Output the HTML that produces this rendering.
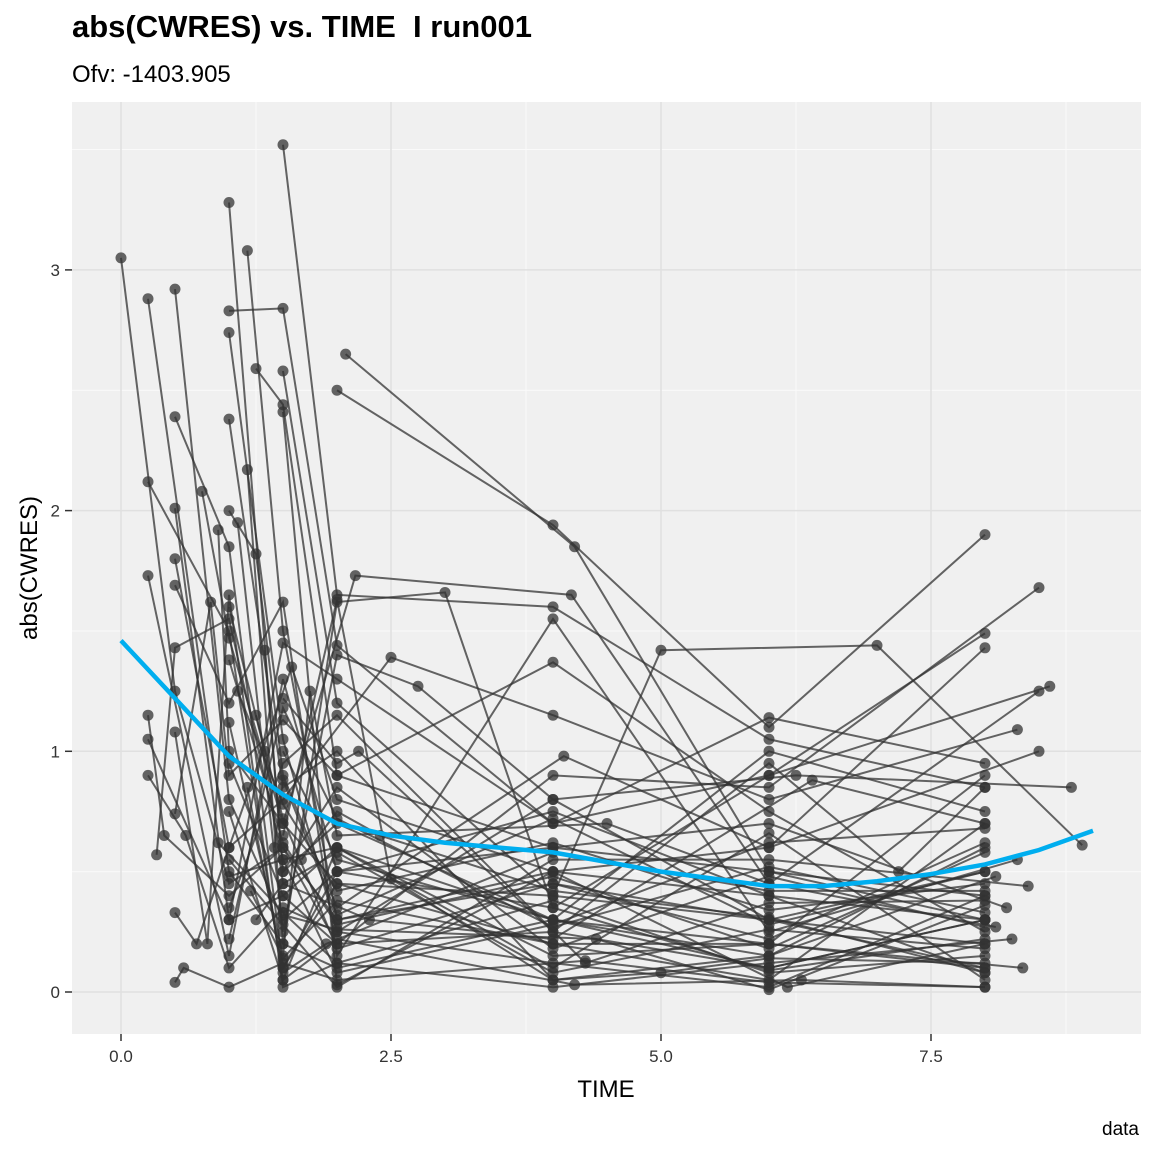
<!DOCTYPE html>
<html><head><meta charset="utf-8"><style>
body{margin:0;background:#fff;font-family:"Liberation Sans",sans-serif}
</style></head><body>
<svg id="chart" width="1152" height="1152" xmlns="http://www.w3.org/2000/svg">
<rect x="0" y="0" width="1152" height="1152" fill="#fff"/>
<text x="72" y="37" font-size="31" font-weight="bold" fill="#000">abs(CWRES) vs. TIME&#160; I run001</text>
<text x="72" y="82" font-size="24" fill="#000">Ofv: -1403.905</text>
<rect x="72" y="102" width="1069" height="932" fill="#f0f0f0"/>
<g id="grid"></g>
<g id="lines"></g>
<g id="points"></g>
<path id="smooth" fill="none" stroke="#00aeef" stroke-width="4.5"/>
<g id="ticks"></g>
<text x="606" y="1097" font-size="24" text-anchor="middle" fill="#000">TIME</text>
<text transform="translate(37,568) rotate(-90)" font-size="24" text-anchor="middle" fill="#000">abs(CWRES)</text>
<text x="1139" y="1135" font-size="19" text-anchor="end" fill="#000">data</text>
</svg>
<script>
const xTicks=[0,2.5,5,7.5];
const xTickLabels=["0.0","2.5","5.0","7.5"];
const yTicks=[0,1,2,3];
const yTickLabels=["0","1","2","3"];
const smoothTimes=[0,0.5,1,1.5,2,2.5,3,4,5,6,6.5,7,7.5,8,8.5,9];
const smoothValues=[1.46,1.22,0.98,0.82,0.70,0.65,0.62,0.58,0.50,0.44,0.44,0.46,0.49,0.53,0.59,0.67];
const subjects=[
[[0,3.05],[0.5,1.25],[1,0.45],[1.5,0.6],[2,0.3],[4,0.45],[6,0.3],[8,0.2]],
[[0.25,2.88],[1,0.5],[1.5,0.2],[2,0.1],[4,0.3],[6,0.1],[8,0.3]],
[[0.5,2.92],[1,0.8],[1.5,0.3],[2,0.5],[4,0.6],[6,0.5],[8,0.4]],
[[1,3.28],[1.5,0.5],[2,0.7],[4,0.3],[6,0.2],[8,0.1]],
[[1.5,3.52],[2,1.65],[4,1.6],[6,1.05],[8,0.85]],
[[1.17,3.08],[1.5,1.5],[2,0.3],[4,0.5],[6,0.4],[8,0.3]],
[[1,2.83],[1.5,2.84],[2,1.44],[4,0.7],[6,0.9],[8,1.49]],
[[2.08,2.65],[4.2,1.85],[6,0.5],[8,0.3]],
[[2,2.5],[4,1.94],[6,1.1],[8,1.9]],
[[1.5,2.58],[2,1.2],[4,0.4],[5,1.42],[7,1.44],[8.9,0.61]],
[[0.5,2.39],[1,1.85],[1.5,0.1],[2,0.45],[4,0.2],[6,0.05],[8,0.7]],
[[1,2.74],[1.5,1.05],[2,0.25],[4,0.8],[6,0.3],[8,0.5]],
[[0.25,2.12],[1,1.5],[1.5,0.05],[2,0.6],[4,0.15],[6,0.2],[8,0.9]],
[[1.25,2.59],[1.5,2.44],[2,0.9],[4,1.37],[6,0.75],[8,0.25]],
[[1.5,2.41],[2,0.03],[4,0.5],[6,0.6],[8,1.43]],
[[1,2.38],[1.5,0.85],[2,1.0],[4,0.05],[6,0.15],[8,0.6]],
[[0.5,2.01],[1,0.3],[1.5,0.4],[2,0.2],[4,0.9],[6,0.85],[8.5,1.68]],
[[0.75,2.08],[1,1.47],[1.5,0.7],[2.17,1.73],[4.17,1.65],[6,0.45],[8.5,1.25]],
[[1.17,2.17],[1.5,0.2],[2,1.62],[3,1.66],[4,0.35],[6,0.9],[8.6,1.27]],
[[0.25,1.73],[1,0.15],[1.5,1.3],[2,0.5],[4,0.75],[6,0.4],[8,0.08]],
[[0.5,1.8],[1,0.6],[1.5,0.8],[2.5,1.39],[4,1.15],[6,0.8],[8.3,1.09]],
[[0.5,1.69],[1,1.2],[1.5,1.62],[2,0.15],[4,1.55],[6,0.25],[8.3,0.55]],
[[1,2.0],[1.25,1.82],[1.5,0.9],[2,0.35],[4.1,0.98],[6,0.6],[8.5,1.0]],
[[1.08,1.95],[1.5,0.25],[2,1.4],[2.75,1.27],[4,0.8],[6.25,0.9],[8.8,0.85]],
[[0.25,1.15],[0.4,0.65],[1,0.4],[1.5,0.6],[2,0.2],[4,0.25],[6,0.1],[8,0.3]],
[[0.25,1.05],[1,0.3],[1.5,1.45],[2,1.3],[4,0.7],[6,1.14],[8,0.95]],
[[0.25,0.9],[0.6,0.65],[1,0.1],[1.5,0.35],[2,0.25],[4,0.12],[6,0.02],[8,0.4]],
[[0.33,0.57],[0.5,1.43],[1,1.55],[1.5,0.55],[2,0.6],[4,0.3],[6,0.15],[8.1,0.48]],
[[0.5,0.04],[0.58,0.1],[1,0.02],[1.5,0.12],[2,0.05],[4.3,0.13],[6,0.04],[8,0.02]],
[[0.5,0.74],[0.83,1.62],[1,0.9],[1.5,1.13],[2,0.9],[4,0.6],[6,0.7],[8.2,0.35]],
[[0.5,0.33],[0.7,0.2],[1,0.6],[1.58,1.35],[2,0.8],[4,0.5],[6.17,0.02],[8,0.2]],
[[0.5,1.08],[0.8,0.2],[1,1.65],[1.5,0.02],[2,0.12],[4,0.02],[6,0.12],[8.25,0.22]],
[[0.9,1.92],[1,1.0],[1.5,0.7],[2,0.45],[4,0.4],[6,0.3],[8,0.1]],
[[1,1.6],[1.33,1.0],[1.5,0.45],[2.3,0.3],[4,0.22],[6.4,0.88],[8,0.7]],
[[1,1.12],[1.5,0.15],[1.75,1.25],[2,0.65],[4.5,0.7],[6,0.45],[8.1,0.27]],
[[1.5,1.22],[2,0.95],[2.2,1.0],[4,0.25],[6,0.95],[7.2,0.5],[8,0.85]],
[[1,0.35],[1.5,0.95],[2,1.15],[4.3,0.12],[6,0.37],[8,0.38]],
[[1,0.55],[1.5,0.28],[2,0.02],[4,0.55],[6,0.55],[8.4,0.44]],
[[1.5,0.65],[2,1.63],[2.5,0.47],[4,0.05],[5,0.08],[6,0.14],[8,0.12]],
[[1,0.75],[1.5,0.05],[2,0.22],[4.2,0.03],[6.3,0.05],[8,0.02]],
[[1.5,1.0],[2,0.55],[4,0.3],[6,1.0],[8,0.75]],
[[1.2,0.42],[1.5,0.14],[2,0.38],[4,0.2],[6,0.2],[8.35,0.1]],
[[1,1.38],[1.5,0.62],[2,0.28],[4,0.48],[6,0.18],[8,0.58]],
[[1.08,1.25],[1.5,0.78],[2,0.42],[4,0.62],[6,0.34],[8,0.45]],
[[0.9,0.62],[1.5,0.33],[2,0.12],[4,0.38],[6,0.08],[8,0.15]],
[[1,0.22],[1.5,1.18],[2,0.72],[4,0.27],[6,0.52],[8,0.33]],
[[1.25,1.15],[1.5,0.72],[2,0.18],[4,0.45],[6,0.22],[8,0.62]],
[[1.33,1.42],[1.5,0.5],[2,0.85],[4,0.18],[6,0.48],[8,0.27]],
[[1,0.95],[1.5,0.4],[2,0.6],[4,0.1],[6,0.66],[8,0.05]],
[[1.42,0.6],[1.5,0.88],[2,0.32],[4,0.72],[6,0.28],[8,0.5]],
[[1.17,0.85],[1.5,0.1],[2,0.5],[4,0.35],[6,0.09],[8,0.22]],
[[1,0.48],[1.5,0.55],[2,0.08],[4,0.28],[6,0.62],[8,0.68]],
[[1.67,0.55],[2,0.75],[2.4,0.65],[4,0.42],[6,0.31],[8,0.08]],
[[1.5,0.32],[2,0.26],[4.4,0.22],[6,0.01],[8,0.36]],
[[1.5,0.08],[1.9,0.2],[4,0.58],[6,0.42],[8,0.42]],
[[1.25,0.3],[1.5,0.45],[2,0.58],[4,0.08],[6,0.26],[8,0.18]]
];
const X0=121,XS=108,Y0=992,YS=240.7;
function xs(v){return X0+v*XS}
function ys(v){return Y0-v*YS}
const NS="http://www.w3.org/2000/svg";
const grid=document.getElementById('grid'),ticks=document.getElementById('ticks');
function mk(t,a){const e=document.createElementNS(NS,t);for(const k in a)e.setAttribute(k,a[k]);return e}
[1.25,3.75,6.25,8.75].forEach(v=>{const l=mk('line',{x1:xs(v),x2:xs(v),y1:102,y2:1034,stroke:'#fafafa','stroke-width':1});

grid.appendChild(l)});
[0.5,1.5,2.5,3.5].forEach(v=>{const l=mk('line',{x1:72,x2:1141,y1:ys(v),y2:ys(v),stroke:'#fafafa','stroke-width':1});

grid.appendChild(l)});
xTicks.forEach((v,i)=>{const l=mk('line',{x1:xs(v),x2:xs(v),y1:102,y2:1034,stroke:'#e0e0e0','stroke-width':1.5});

grid.appendChild(l);
const tk=mk('line',{x1:xs(v),x2:xs(v),y1:1034,y2:1041,stroke:'#333','stroke-width':1.5});

ticks.appendChild(tk);
const t=mk('text',{x:xs(v),y:1062,'font-size':17,'text-anchor':'middle',fill:'#333'});t.textContent=xTickLabels[i];

ticks.appendChild(t)});
yTicks.forEach((v,i)=>{const l=mk('line',{x1:72,x2:1141,y1:ys(v),y2:ys(v),stroke:'#e0e0e0','stroke-width':1.5});

grid.appendChild(l);
const tk=mk('line',{x1:65,x2:72,y1:ys(v),y2:ys(v),stroke:'#333','stroke-width':1.5});

ticks.appendChild(tk);
const t=mk('text',{x:60,y:ys(v)+6,'font-size':17,'text-anchor':'end',fill:'#333'});t.textContent=yTickLabels[i];

ticks.appendChild(t)});
const lg=document.getElementById('lines'),pg=document.getElementById('points');
subjects.forEach(s=>{
 const p=mk('polyline',{points:s.map(d=>xs(d[0])+','+ys(d[1])).join(' '),fill:'none',stroke:'#333','stroke-opacity':0.75,'stroke-width':2});
 
 lg.appendChild(p);
 s.forEach(d=>{const c=mk('circle',{cx:xs(d[0]),cy:ys(d[1]),r:5.5,fill:'#333','fill-opacity':0.75});
 
 pg.appendChild(c)});
});
let d='';smoothTimes.forEach((t,i)=>{d+=(i?'L':'M')+xs(t)+','+ys(smoothValues[i])});
document.getElementById('smooth').setAttribute('d',d);
</script>
</body></html>
